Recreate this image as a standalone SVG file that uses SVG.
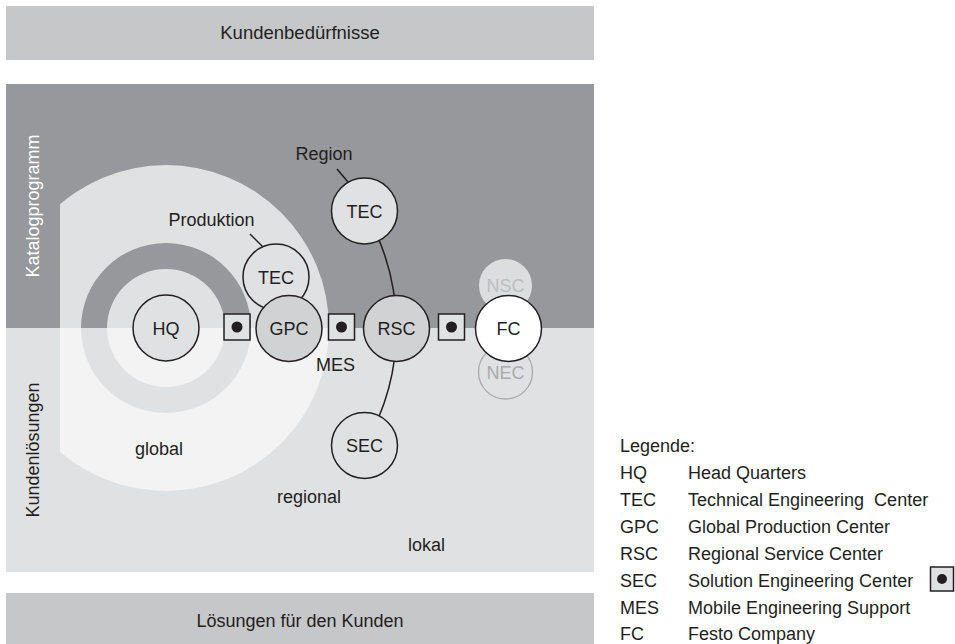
<svg xmlns="http://www.w3.org/2000/svg" width="955" height="644" viewBox="0 0 955 644">
<style>
text{font-family:"Liberation Sans",Arial,Helvetica,sans-serif;font-size:18px;fill:#231f20}
.c{text-anchor:middle}
.node{stroke:#231f20;stroke-width:1.5}
.lt{fill:#e0e1e3}
.md{fill:#d1d2d4}
.conn{fill:none;stroke:#231f20;stroke-width:1.5}
.sq{fill:#e0e1e3;stroke:#231f20;stroke-width:1.5}
.dot{fill:#231f20}
</style>
<defs>
<clipPath id="clipTop"><rect x="60" y="84" width="534" height="244"/></clipPath>
<clipPath id="clipBot"><rect x="60" y="328" width="534" height="244"/></clipPath>
</defs>
<g id="top-box">
<rect x="6" y="6" width="588" height="54" fill="#c6c7c9"/>
<text x="300" y="39" class="c" style="font-size:18.5px">Kundenbedürfnisse</text>
</g>
<g id="panel">
<rect x="6" y="84" width="588" height="244" fill="#97989b"/>
<rect x="6" y="328" width="588" height="244" fill="#e0e1e3"/>
<g clip-path="url(#clipTop)">
<circle cx="166" cy="328" r="163" fill="#e0e1e3"/>
<circle cx="166" cy="328" r="85" fill="#97989b"/>
<circle cx="166" cy="328" r="59" fill="#e0e1e3"/>
</g>
<g clip-path="url(#clipBot)">
<circle cx="166" cy="328" r="163" fill="#f3f3f3"/>
<circle cx="166" cy="328" r="85" fill="#e0e1e3"/>
<circle cx="166" cy="328" r="59" fill="#f3f3f3"/>
</g>
<text transform="translate(39,206) rotate(-90)" class="c" style="fill:#ffffff">Katalogprogramm</text>
<text transform="translate(39,450) rotate(-90)" class="c">Kundenlösungen</text>
<text x="135" y="455">global</text>
<text x="277" y="503">regional</text>
<text x="408" y="551">lokal</text>
<text x="211.5" y="226" class="c">Produktion</text>
<text x="324" y="160" class="c">Region</text>
<text x="335.5" y="371" class="c">MES</text>
</g>
<g id="connectors">
<path class="conn" d="M364.5 211 A231 231 0 0 1 364.5 445.5"/>
<line class="conn" x1="250" y1="234" x2="263" y2="247"/>
<line class="conn" x1="337" y1="169" x2="348" y2="182"/>
</g>
<g id="mes-markers">
<rect class="sq" x="224" y="314" width="26" height="26"/><circle class="dot" cx="237" cy="327" r="5.5"/>
<rect class="sq" x="328.5" y="314" width="26" height="26"/><circle class="dot" cx="341.5" cy="327" r="5.5"/>
<rect class="sq" x="438.5" y="314" width="26" height="26"/><circle class="dot" cx="451.5" cy="327" r="5.5"/>
</g>
<g id="HQ"><circle class="node lt" cx="166" cy="328" r="33"/><text x="166" y="334.5" class="c">HQ</text></g>
<g id="TEC-produktion"><circle class="node lt" cx="276" cy="277" r="33"/><text x="276" y="283.5" class="c">TEC</text></g>
<g id="GPC"><circle class="node md" cx="289" cy="328.5" r="33"/><text x="289" y="335" class="c">GPC</text></g>
<g id="TEC-region"><circle class="node lt" cx="364.5" cy="211" r="33"/><text x="364.5" y="217.5" class="c">TEC</text></g>
<g id="RSC"><circle class="node md" cx="396.5" cy="328.5" r="33"/><text x="396.5" y="335" class="c">RSC</text></g>
<g id="SEC"><circle class="node lt" cx="364.5" cy="445.5" r="33"/><text x="364.5" y="452" class="c">SEC</text></g>
<g id="NSC"><circle cx="505.5" cy="285.5" r="26.5" fill="#dcdddf"/><text x="505.5" y="292" class="c" style="fill:#bdbec0">NSC</text></g>
<g id="NEC"><circle cx="505.5" cy="372" r="27" fill="none" stroke="#a9aaac" stroke-width="1.3"/><text x="505.5" y="379" class="c" style="fill:#a9aaac">NEC</text></g>
<g id="FC"><circle class="node" cx="508.5" cy="328.5" r="33" fill="#ffffff"/><text x="508.5" y="335" class="c">FC</text></g>
<g id="bottom-box">
<rect x="6" y="593" width="588" height="54" fill="#c6c7c9"/>
<text x="300" y="627" class="c">Lösungen für den Kunden</text>
</g>
<g id="legend">
<text x="620" y="452">Legende:</text>
<text x="620" y="479">HQ</text><text x="688" y="479">Head Quarters</text>
<text x="620" y="506">TEC</text><text x="688" y="506" xml:space="preserve">Technical Engineering  Center</text>
<text x="620" y="533">GPC</text><text x="688" y="533">Global Production Center</text>
<text x="620" y="560">RSC</text><text x="688" y="560">Regional Service Center</text>
<text x="620" y="587">SEC</text><text x="688" y="587">Solution Engineering Center</text>
<text x="620" y="614">MES</text><text x="688" y="614">Mobile Engineering Support</text>
<text x="620" y="640">FC</text><text x="688" y="640">Festo Company</text>
<rect class="sq" x="930.5" y="567" width="23" height="24"/><circle class="dot" cx="942" cy="579" r="5"/>
</g>
</svg>
